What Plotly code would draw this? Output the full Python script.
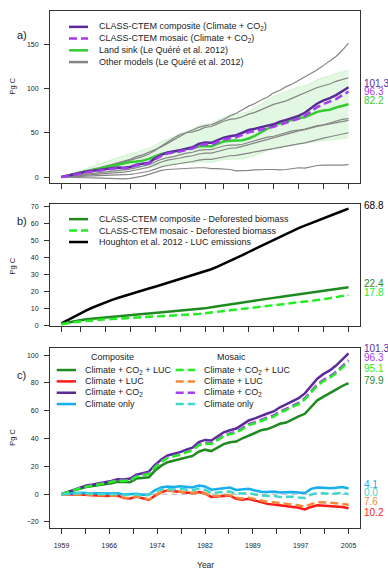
import plotly.graph_objects as go
import numpy as np

years = list(range(1959, 2006))

# ---------- panel a ----------
comp_cc = [0, 1.5, 3.2, 5.0, 6.3, 7.0, 7.8, 8.8, 9.5, 10.8,
           10.6, 11.2, 14.0, 15.0, 16.2, 21.0, 25.0, 27.8, 28.8, 30.2,
           32.0, 33.5, 37.5, 39.0, 38.6, 41.5, 44.5, 46.0, 47.2, 50.0,
           53.0, 54.5, 56.5, 58.0, 59.5, 62.5, 64.5, 67.0, 69.0, 72.5,
           78.0, 83.0, 86.5, 89.0, 92.5, 97.0, 101.3]
mos_cc = [0, 1.3, 2.9, 4.6, 5.8, 6.5, 7.2, 8.2, 8.9, 10.0,
          9.9, 10.4, 13.0, 14.0, 15.2, 19.8, 23.8, 26.5, 27.4, 28.8,
          30.5, 32.0, 35.6, 37.0, 36.6, 39.4, 42.3, 43.7, 44.9, 47.5,
          50.4, 51.8, 53.7, 55.1, 56.6, 59.4, 61.3, 63.7, 65.6, 69.0,
          74.2, 79.0, 82.3, 84.7, 88.0, 92.3, 96.3]
land_sink = [0, 1.5, 3.0, 4.8, 6.5, 8.0, 9.5, 10.5, 12.0, 14.0,
             15.5, 17.0, 17.5, 18.5, 20.5, 23.5, 26.0, 27.5, 29.0, 30.0,
             31.5, 32.5, 34.5, 35.0, 34.5, 37.5, 40.0, 41.0, 41.0, 41.5,
             43.5, 46.5, 50.5, 55.0, 58.5, 60.5, 62.5, 64.5, 66.5, 67.5,
             70.5, 73.5, 75.0, 76.0, 78.5, 80.5, 82.2]
band_up = [0, 2.5, 5.0, 7.5, 10.0, 12.5, 15.0, 17.0, 19.5, 22.0,
           24.0, 26.5, 28.0, 30.0, 32.5, 36.0, 40.0, 43.0, 46.0, 48.5,
           51.5, 54.0, 57.5, 59.5, 60.5, 64.0, 67.5, 69.5, 70.5, 72.0,
           74.5, 78.0, 82.5, 87.5, 91.5, 94.0, 96.5, 99.0, 101.5, 103.0,
           106.5, 110.0, 112.5, 114.0, 117.0, 119.0, 120.5]
band_lo = [0, 0.5, 1.0, 2.0, 3.0, 3.5, 4.0, 4.5, 5.0, 6.0,
           7.0, 8.0, 8.5, 9.0, 10.0, 12.0, 13.5, 14.5, 15.0, 15.5,
           16.0, 16.5, 17.0, 17.0, 16.5, 18.0, 19.5, 20.0, 20.0, 20.5,
           22.0, 24.0, 27.0, 30.0, 32.5, 34.0, 35.0, 36.0, 37.0, 37.5,
           39.0, 40.5, 41.0, 41.5, 42.5, 43.5, 44.0]
other_1 = [0, 1.5, 3.5, 5.5, 7.5, 9.0, 10.5, 12.0, 14.0, 16.0,
           18.0, 20.0, 23.0, 25.0, 28.0, 31.0, 34.0, 38.0, 42.0, 46.0,
           50.0, 53.0, 56.0, 58.0, 59.0, 62.0, 65.0, 69.0, 72.0, 76.0,
           80.0, 83.0, 87.0, 90.0, 95.0, 98.0, 102.0, 105.0, 109.0, 113.0,
           117.0, 121.0, 126.0, 131.0, 136.0, 143.0, 151.0]
other_2 = [0, 1.5, 3.0, 4.5, 6.0, 7.5, 9.0, 11.0, 13.0, 15.0,
           16.5, 18.5, 21.0, 23.0, 26.0, 30.0, 35.0, 40.0, 44.0, 48.0,
           50.0, 51.0, 53.0, 56.0, 57.0, 60.0, 63.0, 65.0, 66.0, 68.0,
           71.0, 73.0, 76.0, 79.0, 82.0, 84.0, 86.0, 89.0, 92.0, 95.0,
           98.0, 101.0, 103.0, 105.0, 108.0, 110.0, 112.0]
other_3 = [0, 0.8, 1.5, 2.5, 3.5, 4.0, 5.0, 5.5, 6.5, 7.5,
           8.0, 9.0, 10.5, 12.0, 14.0, 17.0, 20.0, 22.0, 23.0, 25.0,
           27.0, 28.0, 30.0, 31.0, 31.0, 33.0, 35.0, 36.0, 36.0, 37.0,
           39.0, 41.0, 43.0, 45.0, 46.0, 48.0, 50.0, 52.0, 53.0, 54.0,
           56.0, 58.0, 59.0, 61.0, 63.0, 65.0, 66.0]
other_4 = [0, 0.5, 1.0, 1.5, 2.5, 3.0, 3.5, 4.0, 4.5, 5.0,
           5.5, 6.5, 8.0, 9.5, 11.0, 14.0, 17.0, 19.0, 20.0, 21.5,
           23.0, 24.0, 26.0, 27.0, 27.0, 29.0, 31.0, 32.5, 33.0, 34.5,
           36.5, 38.5, 40.5, 42.5, 44.0, 46.0, 48.0, 50.0, 52.0, 53.5,
           55.5, 57.0, 58.5, 60.0, 61.5, 63.0, 64.0]
other_5 = [0, 0.3, 0.6, 1.0, 1.3, 1.5, 1.8, 2.0, 2.0, 2.5,
           2.5, 3.0, 4.0, 5.0, 6.5, 9.0, 11.5, 13.0, 14.0, 15.0,
           16.5, 17.5, 19.0, 20.0, 20.0, 21.5, 23.0, 24.0, 24.5, 25.5,
           27.0, 28.5, 30.0, 31.0, 32.0, 33.5, 35.0, 36.0, 37.5, 38.5,
           40.5, 42.5, 44.0, 45.5, 47.0, 48.5, 50.0]
other_6 = [0, 0.0, -0.3, -0.5, -0.8, -1.0, -1.2, -1.5, -1.8, -2.2,
           -2.0, -1.5, -0.5, 1.0, 3.0, 5.5, 7.5, 8.5, 9.0, 9.5,
           10.0, 10.0, 10.5, 10.5, 9.5, 9.5, 9.0, 8.5, 7.0, 7.0,
           7.5, 8.0, 8.5, 8.5, 8.5, 8.0, 8.5, 9.5, 10.5, 10.0,
           11.5, 13.0, 13.5, 13.5, 13.0, 13.5, 14.0]
other_models = [other_1, other_2, other_3, other_4, other_5, other_6]

# ---------- panel b ----------
houghton = [1.0, 3.0, 5.0, 6.9, 8.7, 10.4, 12.0, 13.5, 14.8, 16.0,
            17.2, 18.3, 19.4, 20.5, 21.6, 22.7, 23.8, 24.9, 26.0, 27.1,
            28.2, 29.3, 30.4, 31.6, 33.0, 34.5, 36.1, 37.7, 39.4, 41.3,
            43.2, 45.0, 46.8, 48.6, 50.3, 52.0, 53.8, 55.6, 57.3, 58.8,
            60.3, 61.7, 63.1, 64.5, 66.0, 67.4, 68.8]
comp_def = [0.8, 1.6, 2.3, 2.9, 3.4, 3.8, 4.2, 4.6, 5.0, 5.4,
            5.7, 6.0, 6.3, 6.6, 6.9, 7.2, 7.5, 7.8, 8.1, 8.4,
            8.7, 9.0, 9.4, 9.9, 10.5, 11.1, 11.7, 12.3, 12.9, 13.5,
            14.0, 14.6, 15.1, 15.6, 16.1, 16.6, 17.1, 17.6, 18.1, 18.6,
            19.2, 19.7, 20.2, 20.7, 21.3, 21.9, 22.4]
mos_def = [0.5, 1.2, 1.7, 2.1, 2.5, 2.8, 3.1, 3.4, 3.6, 3.8,
           4.0, 4.2, 4.4, 4.6, 4.8, 5.0, 5.2, 5.4, 5.6, 5.8,
           6.0, 6.3, 6.6, 7.0, 7.5, 8.0, 8.4, 8.8, 9.2, 9.6,
           10.0, 10.4, 10.8, 11.2, 11.6, 12.0, 12.5, 12.9, 13.4, 13.8,
           14.3, 14.8, 15.3, 15.9, 16.5, 17.2, 17.8]

# ---------- panel c ----------
comp_ccl = [0, 1.3, 2.8, 4.2, 5.2, 5.8, 6.4, 7.2, 7.8, 8.9,
            8.5, 8.6, 11.2, 11.6, 12.2, 17.0, 20.5, 23.0, 24.0, 25.3,
            26.5, 27.5, 30.5, 32.0, 31.0, 33.5, 36.0, 37.3, 37.8, 40.2,
            42.4, 44.0, 46.0, 46.8, 48.6, 50.6, 51.5, 54.0, 56.0, 57.8,
            62.5, 67.5, 70.2, 72.5, 75.2, 77.8, 79.9]
comp_cl = [0, -0.3, -0.3, -0.2, -0.5, -0.9, -1.0, -1.3, -1.2, -1.0,
           -2.8, -3.2, -1.8, -3.0, -4.2, -1.0, 1.5, 2.6, 2.0, 1.8,
           1.2, 0.6, 1.6, 0.6, -2.0, -1.6, -1.2, -1.0, -3.3, -4.0,
           -3.4, -4.6, -5.8, -7.0, -7.4, -8.0, -9.0, -9.2, -9.8, -11.0,
           -9.2, -8.0, -8.3, -8.8, -9.0, -9.3, -10.2]
comp_c = [0, 0.5, 0.8, 1.0, 0.8, 0.5, 0.7, 0.5, 0.3, 0.6,
          -0.3, 0.0, 0.2, -0.5, -0.3, 3.0, 4.8, 5.5, 5.2, 5.6,
          5.2, 4.8, 6.2, 5.5, 3.2, 3.8, 4.5, 4.8, 3.0, 3.2,
          3.8, 2.6, 1.8, 1.6, 1.9, 1.2, 1.4, 1.6, 1.2, 0.8,
          3.8, 4.8, 4.6, 4.2, 4.6, 5.2, 4.1]
mos_ccl = [0, 1.2, 2.8, 4.4, 5.6, 6.3, 7.0, 7.9, 8.6, 9.7,
           9.5, 9.9, 12.5, 13.5, 14.6, 19.3, 23.3, 26.1, 27.0, 28.4,
           30.1, 31.5, 35.1, 36.5, 36.0, 38.8, 41.7, 43.1, 44.2, 46.8,
           49.7, 51.0, 52.9, 54.3, 55.8, 58.6, 60.5, 62.9, 64.8, 68.2,
           73.3, 78.1, 81.4, 83.7, 87.0, 91.2, 95.1]
mos_cl = [0, -0.3, -0.3, -0.3, -0.5, -0.8, -0.9, -1.2, -1.1, -0.9,
          -2.5, -2.8, -1.5, -2.6, -3.8, -0.8, 1.6, 2.7, 2.1, 2.0,
          1.4, 0.8, 1.8, 0.8, -1.6, -1.2, -0.8, -0.6, -2.6, -3.2,
          -2.6, -3.6, -4.6, -5.6, -5.9, -6.4, -7.3, -7.4, -8.0, -9.2,
          -7.2, -5.8, -5.8, -6.2, -6.5, -6.8, -7.6]
mos_c = [0, 0.3, 0.5, 0.6, 0.4, 0.2, 0.3, 0.1, -0.1, 0.2,
         -0.6, -0.4, -0.2, -0.9, -0.7, 2.0, 3.3, 3.8, 3.4, 3.8,
         3.4, 2.9, 4.0, 3.2, 0.8, 1.2, 1.8, 1.9, 0.3, 0.4,
         0.8, -0.3, -1.1, -1.4, -1.2, -2.0, -1.9, -1.8, -2.4, -2.8,
         -0.2, 0.8, 0.6, 0.2, 0.5, 0.9, 0.0]

# ticks / labels
ab_tickvals = [1959, 1962, 1966, 1970, 1974, 1978, 1982, 1985, 1989, 1993, 1997, 2001, 2005]
c_ticktext = ["1959", " ", "1966", " ", "1974", " ", "1982", " ", "1989", " ", "1997", " ", "2005"]

# ---------- styling ----------
FONT = "Liberation Sans, Arial, Helvetica, sans-serif"
C_DPURPLE = "#5B2C99"
C_PURPLE = "#A63CF0"
C_LIME = "#33CC33"
C_GRAY = "#858585"
C_DGREEN = "#1F8A1F"
C_BGREEN = "#22EE22"
C_RED = "#FF1A1A"
C_ORANGE = "#F5883A"
C_BLUE = "#17AEEE"
C_TURQ = "#40D8CC"
DASH = "8px,4px"
LW = 2.5

W, H = 388, 570
def fx(p): return p / W
def fy(p): return 1 - p / H

fig = go.Figure()

def line(x, y, ax, color, width=LW, dash=None, **kw):
    fig.add_trace(go.Scatter(x=x, y=y, mode="lines", xaxis="x" + ax, yaxis="y" + ax,
                             line=dict(color=color, width=width, dash=dash),
                             showlegend=False, hoverinfo="skip", **kw))

# panel a
line(years, band_up, "", "rgba(50,205,50,0.25)", width=0.6)
line(years, band_lo, "", "rgba(50,205,50,0.25)", width=0.6, fill="tonexty",
     fillcolor="rgba(50,205,50,0.14)")
for g in other_models:
    line(years, g, "", C_GRAY, width=1.2)
line(years, land_sink, "", C_LIME)
line(years, comp_cc, "", C_DPURPLE)
line(years, mos_cc, "", C_PURPLE, dash=DASH)

# panel b
line(years, houghton, "2", "#000000")
line(years, comp_def, "2", C_DGREEN)
line(years, mos_def, "2", C_BGREEN, dash=DASH)

# panel c
line(years, comp_ccl, "3", C_DGREEN)
line(years, comp_cl, "3", C_RED)
line(years, comp_cc, "3", C_DPURPLE)
line(years, comp_c, "3", C_BLUE)
line(years, mos_cc, "3", C_PURPLE, dash=DASH)
line(years, mos_ccl, "3", C_BGREEN, dash=DASH)
line(years, mos_cl, "3", C_ORANGE, dash=DASH)
line(years, mos_c, "3", C_TURQ, dash=DASH)

xr = [1957.16, 2006.84]
axis_common = dict(showline=True, mirror=True, linecolor="#333333", linewidth=1,
                   ticks="outside", ticklen=5, tickwidth=1, tickcolor="#333333",
                   showgrid=False, zeroline=False,
                   tickfont=dict(family=FONT, size=7, color="#222222"))
xdom = [fx(50), fx(360)]

layout = dict(
    width=W, height=H, margin=dict(l=0, r=0, t=0, b=0),
    paper_bgcolor="white", plot_bgcolor="white", showlegend=False,
    xaxis=dict(domain=xdom, range=xr, anchor="y", tickvals=ab_tickvals,
               showticklabels=False, **axis_common),
    yaxis=dict(domain=[fy(183.3), fy(10)], range=[-7.1, 187.4], anchor="x",
               tickvals=[0, 50, 100, 150], ticklabelstandoff=4, **axis_common),
    xaxis2=dict(domain=xdom, range=xr, anchor="y2", tickvals=ab_tickvals,
                showticklabels=False, **axis_common),
    yaxis2=dict(domain=[fy(327.2), fy(204)], range=[-0.8, 71.6], anchor="x2",
                tickvals=list(range(0, 71, 10)), ticklabelstandoff=4, **axis_common),
    xaxis3=dict(domain=xdom, range=xr, anchor="y3",
                tickvals=list(np.linspace(1959, 2005, 13)), ticktext=c_ticktext,
                ticklabelstandoff=5, **axis_common),
    yaxis3=dict(domain=[fy(530), fy(349.3)], range=[-24.5, 104.8], anchor="x3",
                tickvals=[-20, 0, 20, 40, 60, 80, 100], ticklabelstandoff=4, **axis_common),
)
fig.update_layout(**layout)

shapes = []
annots = []

# zero reference line in panel c
shapes.append(dict(type="line", xref="x3", yref="y3", x0=1959, x1=2005, y0=0, y1=0,
                   line=dict(color="#C8C8C8", width=1.5, dash="6px,4px"), layer="below"))

def text(x, y, s, size=9, color="#222222", xanchor="left", angle=0):
    annots.append(dict(x=fx(x), y=fy(y), xref="paper", yref="paper", text=s,
                       showarrow=False, xanchor=xanchor, yanchor="middle",
                       textangle=angle,
                       font=dict(family=FONT, size=size, color=color)))

def key(x0, x1, y, color, dash=None):
    shapes.append(dict(type="line", xref="paper", yref="paper",
                       x0=fx(x0), x1=fx(x1), y0=fy(y), y1=fy(y),
                       line=dict(color=color, width=LW, dash=dash)))

# legend a
leg_a = [("CLASS-CTEM composite (Climate + CO<sub>2</sub>)", C_DPURPLE, None),
         ("CLASS-CTEM mosaic (Climate + CO<sub>2</sub>)", C_PURPLE, DASH),
         ("Land sink (Le Quéré et al. 2012)", C_LIME, None),
         ("Other models (Le Quéré et al. 2012)", C_GRAY, None)]
for i, (s, c, d) in enumerate(leg_a):
    y = 26 + i * 11.8
    key(69, 88, y, c, d)
    text(96.5, y, s)

# legend b
leg_b = [("CLASS-CTEM composite - Deforested biomass", C_DGREEN, None),
         ("CLASS-CTEM mosaic - Deforested biomass", C_BGREEN, DASH),
         ("Houghton et al. 2012 - LUC emissions", "#000000", None)]
for i, (s, c, d) in enumerate(leg_b):
    y = 219.3 + i * 11.5
    key(69, 88, y, c, d)
    text(96.5, y, s)

# legend c
text(112.5, 357.7, "Composite", xanchor="center")
text(231.5, 357.7, "Mosaic", xanchor="center")
leg_c_comp = [("Climate + CO<sub>2</sub> + LUC", C_DGREEN),
              ("Climate + LUC", C_RED),
              ("Climate + CO<sub>2</sub>", C_DPURPLE),
              ("Climate only", C_BLUE)]
leg_c_mos = [("Climate + CO<sub>2</sub> + LUC", C_BGREEN),
             ("Climate + LUC", C_ORANGE),
             ("Climate + CO<sub>2</sub>", C_PURPLE),
             ("Climate only", C_TURQ)]
for i in range(4):
    y = 371 + i * 11.4
    key(56.7, 76, y, leg_c_comp[i][1])
    text(83.3, y, leg_c_comp[i][0])
    key(175.7, 195, y, leg_c_mos[i][1], DASH)
    text(201.7, y, leg_c_mos[i][0])

# end-value labels
for s, c, y in [("101.3", C_DPURPLE, 83), ("96.3", C_PURPLE, 91.3), ("82.2", C_LIME, 100),
                ("68.8", "#000000", 205.7), ("22.4", C_DGREEN, 284.3), ("17.8", C_BGREEN, 293.3),
                ("101.3", C_DPURPLE, 349.3), ("96.3", C_PURPLE, 358.3), ("95.1", C_BGREEN, 369),
                ("79.9", C_DGREEN, 381.3), ("4.1", C_BLUE, 486.5), ("0.0", C_TURQ, 493.8),
                ("7.6", C_ORANGE, 503.3), ("10.2", C_RED, 514.2)]:
    text(361.5, y, s, size=10, color=c)

# panel labels
text(14.5, 34.3, "a)", size=11)
text(14.5, 221, "b)", size=11)
text(14.5, 376, "c)", size=11)

# axis titles
text(13, 86, "Pg C", size=7.5, xanchor="center", angle=-90)
text(13, 267, "Pg C", size=7.5, xanchor="center", angle=-90)
text(13, 439, "Pg C", size=7.5, xanchor="center", angle=-90)
text(205, 566.5, "Year", size=8.5, xanchor="center")

fig.update_layout(shapes=shapes, annotations=annots)
fig.write_html("out.html", config={"displayModeBar": False},
               post_script="document.body.style.margin='0px';"
                           "document.body.style.overflow='hidden';")
